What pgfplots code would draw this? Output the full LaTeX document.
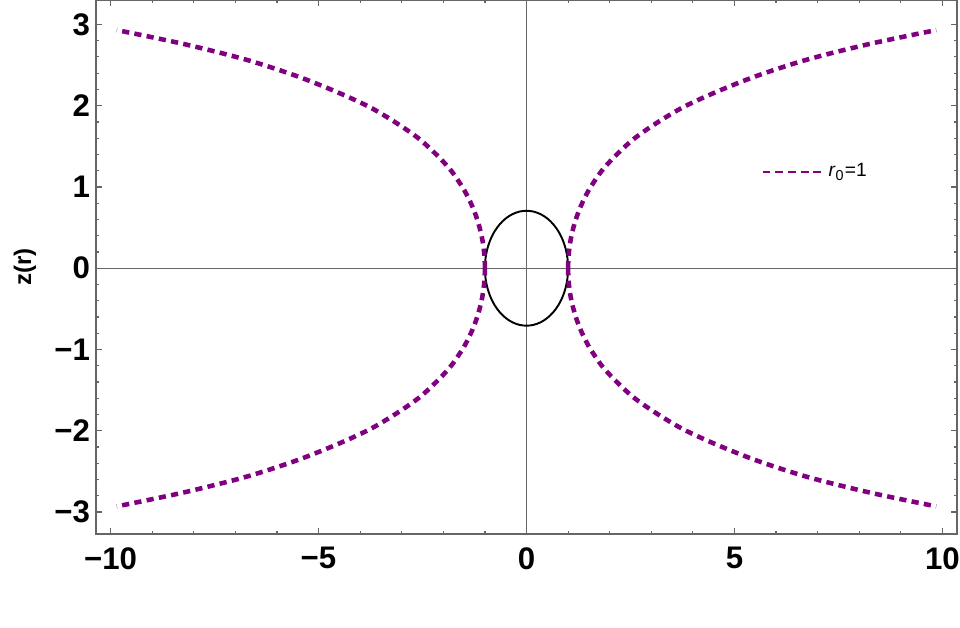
\documentclass[border=0pt]{standalone}
\usepackage{pgfplots}
\pgfplotsset{compat=1.18}
\usepackage{pgfplotstable}
\usepackage{fontspec}
\setmainfont{Liberation Sans}
\definecolor{mmapurple}{rgb}{0.5,0,0.5}
\definecolor{framegray}{gray}{0.4}

% upper right branch, r >= r0
\pgfplotstableread{
r z
1.000 0.00
1.005 0.10
1.020 0.20
1.045 0.30
1.080 0.40
1.128 0.50
1.185 0.60
1.255 0.70
1.337 0.80
1.433 0.90
1.543 1.00
1.811 1.20
2.151 1.39
2.577 1.59
3.107 1.78
3.762 1.98
4.568 2.17
5.557 2.37
6.769 2.57
8.253 2.76
9.850 2.93
}\branch

% the closed curve round the throat
\pgfplotstableread{
x y
1.0000 0.0000
0.9848 0.1228
0.9397 0.2418
0.8660 0.3535
0.7660 0.4545
0.6428 0.5416
0.5000 0.6123
0.3420 0.6644
0.1736 0.6963
0.0000 0.7070
-0.1736 0.6963
-0.3420 0.6644
-0.5000 0.6123
-0.6428 0.5416
-0.7660 0.4545
-0.8660 0.3535
-0.9397 0.2418
-0.9848 0.1228
-1.0000 0.0000
-0.9848 -0.1228
-0.9397 -0.2418
-0.8660 -0.3535
-0.7660 -0.4545
-0.6428 -0.5416
-0.5000 -0.6123
-0.3420 -0.6644
-0.1736 -0.6963
0.0000 -0.7070
0.1736 -0.6963
0.3420 -0.6644
0.5000 -0.6123
0.6428 -0.5416
0.7660 -0.4545
0.8660 -0.3535
0.9397 -0.2418
0.9848 -0.1228
1.0000 0.0000
}\ellipsedata

\begin{document}
\begin{tikzpicture}
\begin{axis}[
  scale only axis,
  width=358.75pt, height=222.5pt,
  xmin=-10.35, xmax=10.35, ymin=-3.27, ymax=3.30,
  axis line style={framegray, line width=0.5pt},
  tick style={framegray, line width=0.5pt},
  major tick length=2.6pt, minor tick length=1.4pt,
  xtick={-10,-5,0,5,10}, xticklabels={−10,−5,0,5,10},
  ytick={-3,-2,-1,0,1,2,3}, yticklabels={−3,−2,−1,0,1,2,3},
  minor x tick num=4, minor y tick num=4,
  ticklabel style={font=\fontsize{13}{15}\selectfont\bfseries},
  xticklabel style={yshift=-2pt},
  yticklabel style={xshift=1pt},
  ylabel={z(r)},
  ylabel style={font=\fontsize{10}{12}\selectfont\bfseries,
    at={(axis description cs:-0.0825,0.5)}, anchor=center},
  legend style={at={(0.772,0.678)}, anchor=west, draw=none, fill=none,
    font=\fontsize{8}{9.5}\selectfont, inner xsep=0pt},
  legend cell align=left,
]
\addplot[framegray, line width=0.4pt, forget plot] coordinates {(-10.35,0) (10.35,0)};
\addplot[framegray, line width=0.4pt, forget plot] coordinates {(0,-3.27) (0,3.30)};
\addplot[black, line width=0.8pt, smooth, forget plot] table[x=x, y=y]{\ellipsedata};

\addplot[mmapurple, line width=1.9pt, dash pattern=on 3pt off 2.2pt, smooth,
  legend image code/.code={\draw[mmapurple, line width=1.1pt, dash pattern=on 3.3pt off 2pt] (0pt,0pt) -- (25pt,0pt);}]
  table[x=r, y=z]{\branch};
\addlegendentry{\textit{r}\textsubscript{0}=1}
\addplot[mmapurple, line width=1.9pt, dash pattern=on 3pt off 2.2pt, smooth, forget plot]
  table[x expr=-\thisrow{r}, y=z]{\branch};
\addplot[mmapurple, line width=1.9pt, dash pattern=on 3pt off 2.2pt, smooth, forget plot]
  table[x=r, y expr=-\thisrow{z}]{\branch};
\addplot[mmapurple, line width=1.9pt, dash pattern=on 3pt off 2.2pt, smooth, forget plot]
  table[x expr=-\thisrow{r}, y expr=-\thisrow{z}]{\branch};
\end{axis}
\pgfresetboundingbox
\path ([xshift=-40pt, yshift=-38.75pt]current axis.south west) rectangle ([xshift=1.25pt]current axis.north east);
\end{tikzpicture}
\end{document}
